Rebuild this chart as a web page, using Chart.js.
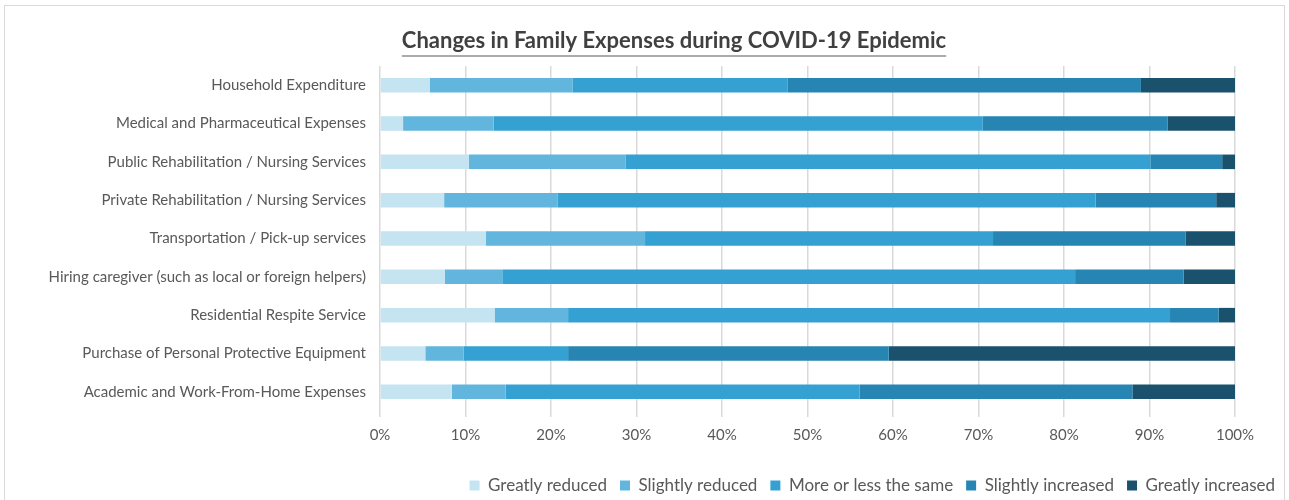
<!DOCTYPE html>
<html>
<head>
<meta charset="utf-8">
<title>Changes in Family Expenses during COVID-19 Epidemic</title>
<script src="https://cdn.jsdelivr.net/npm/chart.js@4"></script>
<style>
  html, body { margin: 0; padding: 0; background: #fff; overflow: hidden; }
  #wrap { position: relative; width: 1289px; height: 500px; }
  #frame { position: absolute; left: 4px; top: 5px; width: 1281px; height: 520px; border: 1.5px solid #d9d9d9; box-sizing: border-box; }
  canvas { position: absolute; left: 0; top: 0; }
</style>
</head>
<body>
<div id="wrap">
  <div id="frame"></div>
  <canvas id="chart" width="1289" height="500"></canvas>
</div>
<script>
// categories, top to bottom
const categories = [
  'Household Expenditure',
  'Medical and Pharmaceutical Expenses',
  'Public Rehabilitation / Nursing Services',
  'Private Rehabilitation / Nursing Services',
  'Transportation / Pick-up services',
  'Hiring caregiver (such as local or foreign helpers)',
  'Residential Respite Service',
  'Purchase of Personal Protective Equipment',
  'Academic and Work-From-Home Expenses'
];

// percentages
const greatlyReduced    = [5.8, 2.7, 10.4, 7.5, 12.4, 7.6, 13.4, 5.3, 8.4];
const slightlyReduced   = [16.7, 10.6, 18.3, 13.3, 18.6, 6.7, 8.6, 4.5, 6.3];
const aboutSame         = [25.2, 57.2, 61.4, 62.9, 40.7, 67.0, 70.4, 12.2, 41.4];
const slightlyIncreased = [41.3, 21.6, 8.4, 14.1, 22.5, 12.7, 5.7, 37.5, 31.9];
const greatlyIncreased  = [11.0, 7.9, 1.5, 2.2, 5.8, 6.0, 1.9, 40.5, 12.0];

const seriesNames  = ['Greatly reduced', 'Slightly reduced', 'More or less the same', 'Slightly increased', 'Greatly increased'];
const seriesColors = ['#c5e4f1', '#62b6de', '#35a0d2', '#2785b3', '#1a526e'];
const xTicks = [0, 10, 20, 30, 40, 50, 60, 70, 80, 90, 100];

const TITLE = 'Changes in Family Expenses during COVID-19 Epidemic';
const FONT = 'Lato, "Open Sans", sans-serif';
const GREY = '#595959';

// title with underline, Excel style (sits a bit right of the canvas centre)
const underlinedTitle = {
  id: 'underlinedTitle',
  afterDraw(chart) {
    const ctx = chart.ctx;
    ctx.save();
    ctx.font = 'bold 22px ' + FONT;
    ctx.fillStyle = '#404040';
    ctx.textAlign = 'center';
    ctx.textBaseline = 'middle';
    const cx = 674, cy = 41;
    ctx.fillText(TITLE, cx, cy);
    const w = ctx.measureText(TITLE).width;
    ctx.strokeStyle = '#595959';
    ctx.lineWidth = 1.2;
    ctx.beginPath();
    ctx.moveTo(cx - w / 2, 56);
    ctx.lineTo(cx + w / 2, 56);
    ctx.stroke();
    ctx.restore();
  }
};

const datasets = [greatlyReduced, slightlyReduced, aboutSame, slightlyIncreased, greatlyIncreased].map((d, i) => ({
  label: seriesNames[i],
  data: d,
  backgroundColor: seriesColors[i],
  borderWidth: 0,
  barPercentage: 0.38,
  categoryPercentage: 1
}));

new Chart(document.getElementById('chart'), {
  type: 'bar',
  data: { labels: categories, datasets },
  plugins: [underlinedTitle],
  options: {
    indexAxis: 'y',
    responsive: false,
    animation: false,
    layout: { padding: { left: 10, right: 1, top: 66, bottom: -4 } },
    plugins: {
      title: { display: false },
      legend: {
        position: 'bottom',
        align: 'end',
        labels: {
          color: GREY,
          font: { family: FONT, size: 17 },
          boxWidth: 10,
          boxHeight: 10,
          padding: 13
        }
      },
      tooltip: { enabled: false }
    },
    scales: {
      x: {
        stacked: true,
        min: 0,
        max: 100,
        afterBuildTicks: axis => { axis.ticks = xTicks.map(v => ({ value: v })); },
        ticks: { color: GREY, font: { family: FONT, size: 15 }, padding: 9, callback: v => v + '%' },
        grid: { color: '#d9d9d9', lineWidth: 1.5, tickLength: 6 },
        border: { display: false },
        afterFit: s => { s.height = 53; }
      },
      y: {
        stacked: true,
        ticks: { color: GREY, font: { family: FONT, size: 15 }, padding: 6 },
        grid: { display: false },
        border: { display: false },
        afterFit: s => { s.width = 370; }
      },
      // empty right-hand axis, only keeps the plot clear of the legend's right edge
      yRight: {
        type: 'category',
        position: 'right',
        ticks: { display: false },
        grid: { display: false },
        border: { display: false },
        afterFit: s => { s.width = 53; }
      }
    }
  }
});
</script>
</body>
</html>
